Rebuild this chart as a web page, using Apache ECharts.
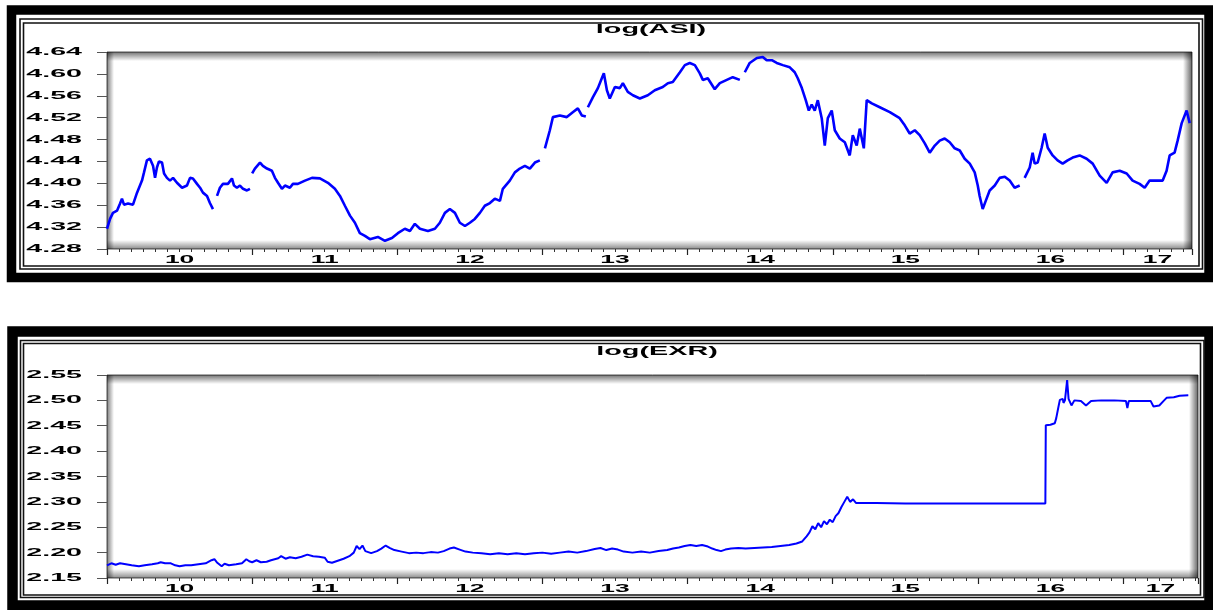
<!DOCTYPE html>
<html>
<head>
<meta charset="utf-8">
<script src="https://cdn.jsdelivr.net/npm/echarts@6/dist/echarts.min.js"></script>
<style>
  html, body { margin: 0; padding: 0; background: #fff; }
  #chart { width: 1213px; height: 610px; }
</style>
</head>
<body>
<div id="chart"></div>
<script>
// Year labels along both time axes (two-digit years)
const yearLabels = ['10', '11', '12', '13', '14', '15', '16', '17'];

// Value-axis tick labels
const asiTickLabels = ['4.28', '4.32', '4.36', '4.40', '4.44', '4.48', '4.52', '4.56', '4.60', '4.64'];
const exrTickLabels = ['2.15', '2.20', '2.25', '2.30', '2.35', '2.40', '2.45', '2.50', '2.55'];

// log(ASI): [decimal year, value]; null marks a break in the record
const asiPoints = [
  [2010.000,4.317],[2010.021,4.335],[2010.041,4.346],[2010.069,4.350],[2010.090,4.363],[2010.103,4.372],
  [2010.117,4.361],[2010.145,4.363],[2010.179,4.361],[2010.207,4.383],[2010.241,4.405],[2010.255,4.420],
  [2010.275,4.442],[2010.296,4.445],[2010.317,4.432],[2010.331,4.410],[2010.344,4.429],[2010.358,4.440],
  [2010.379,4.438],[2010.393,4.418],[2010.413,4.410],[2010.434,4.405],[2010.455,4.410],[2010.482,4.401],
  [2010.517,4.392],[2010.551,4.396],[2010.572,4.410],[2010.592,4.409],[2010.620,4.399],[2010.641,4.392],
  [2010.661,4.383],[2010.689,4.377],[2010.709,4.364],[2010.730,4.353],[2010.744,null],[2010.758,4.377],
  [2010.778,4.392],[2010.799,4.399],[2010.833,4.399],[2010.861,4.409],[2010.875,4.396],[2010.895,4.392],
  [2010.916,4.396],[2010.937,4.390],[2010.964,4.387],[2010.985,4.390],[2010.992,null],[2011.000,4.418],
  [2011.019,4.427],[2011.054,4.438],[2011.074,4.432],[2011.102,4.427],[2011.136,4.423],[2011.157,4.410],
  [2011.178,4.401],[2011.205,4.390],[2011.226,4.396],[2011.260,4.392],[2011.281,4.399],[2011.315,4.399],
  [2011.364,4.405],[2011.412,4.410],[2011.467,4.409],[2011.522,4.401],[2011.570,4.390],[2011.605,4.377],
  [2011.639,4.359],[2011.674,4.341],[2011.708,4.328],[2011.742,4.309],[2011.777,4.304],[2011.811,4.298],
  [2011.866,4.302],[2011.915,4.295],[2011.963,4.300],[2012.004,4.309],[2012.052,4.317],[2012.087,4.313],
  [2012.121,4.326],[2012.156,4.317],[2012.211,4.313],[2012.259,4.317],[2012.293,4.328],[2012.328,4.346],
  [2012.362,4.353],[2012.397,4.346],[2012.431,4.328],[2012.466,4.322],[2012.500,4.328],[2012.534,4.335],
  [2012.569,4.346],[2012.603,4.359],[2012.638,4.364],[2012.672,4.372],[2012.707,4.368],[2012.727,4.390],
  [2012.775,4.405],[2012.810,4.420],[2012.844,4.427],[2012.879,4.432],[2012.913,4.427],[2012.948,4.438],
  [2012.982,4.442],[2013.000,null],[2013.017,4.464],[2013.051,4.497],[2013.072,4.521],[2013.120,4.524],
  [2013.168,4.521],[2013.209,4.530],[2013.244,4.537],[2013.271,4.524],[2013.299,4.522],[2013.306,null],
  [2013.313,4.539],[2013.347,4.557],[2013.382,4.574],[2013.409,4.592],[2013.423,4.601],[2013.444,4.570],
  [2013.464,4.555],[2013.499,4.576],[2013.533,4.574],[2013.554,4.583],[2013.588,4.567],[2013.623,4.561],
  [2013.671,4.555],[2013.726,4.561],[2013.774,4.570],[2013.829,4.576],[2013.864,4.583],[2013.898,4.585],
  [2013.947,4.603],[2013.981,4.616],[2014.015,4.620],[2014.050,4.616],[2014.084,4.601],[2014.105,4.589],
  [2014.139,4.592],[2014.187,4.572],[2014.222,4.583],[2014.270,4.589],[2014.311,4.594],[2014.360,4.589],
  [2014.377,null],[2014.394,4.603],[2014.428,4.620],[2014.477,4.629],[2014.518,4.631],[2014.545,4.625],
  [2014.580,4.625],[2014.614,4.620],[2014.656,4.616],[2014.704,4.612],[2014.738,4.603],[2014.759,4.592],
  [2014.787,4.574],[2014.814,4.552],[2014.835,4.533],[2014.855,4.544],[2014.876,4.533],[2014.897,4.552],
  [2014.924,4.519],[2014.945,4.469],[2014.966,4.519],[2014.993,4.533],[2015.014,4.497],[2015.048,4.482],
  [2015.083,4.475],[2015.117,4.451],[2015.138,4.488],[2015.165,4.469],[2015.186,4.500],[2015.214,4.464],
  [2015.234,4.552],[2015.269,4.546],[2015.324,4.539],[2015.393,4.530],[2015.461,4.519],[2015.496,4.506],
  [2015.530,4.491],[2015.565,4.497],[2015.599,4.488],[2015.634,4.473],[2015.668,4.456],[2015.703,4.469],
  [2015.737,4.478],[2015.771,4.482],[2015.806,4.475],[2015.840,4.464],[2015.875,4.460],[2015.909,4.445],
  [2015.944,4.436],[2015.978,4.420],[2015.999,4.396],[2016.012,4.377],[2016.033,4.353],[2016.054,4.368],
  [2016.081,4.387],[2016.116,4.396],[2016.150,4.410],[2016.185,4.412],[2016.219,4.405],[2016.253,4.392],
  [2016.288,4.396],[2016.305,null],[2016.322,4.410],[2016.357,4.429],[2016.377,4.456],[2016.391,4.436],
  [2016.412,4.438],[2016.439,4.465],[2016.460,4.491],[2016.481,4.465],[2016.515,4.451],[2016.549,4.442],
  [2016.584,4.436],[2016.618,4.442],[2016.653,4.447],[2016.701,4.451],[2016.749,4.445],[2016.791,4.436],
  [2016.839,4.414],[2016.887,4.401],[2016.928,4.420],[2016.977,4.423],[2017.025,4.418],[2017.066,4.405],
  [2017.114,4.399],[2017.149,4.392],[2017.183,4.405],[2017.231,4.405],[2017.273,4.405],[2017.300,4.423],
  [2017.321,4.451],[2017.355,4.456],[2017.376,4.478],[2017.404,4.510],[2017.438,4.533],[2017.459,4.510]
];

// log(EXR): [decimal year, value]
const exrPoints = [
  [2010.000,2.175],[2010.030,2.179],[2010.060,2.176],[2010.090,2.179],[2010.130,2.177],[2010.170,2.175],
  [2010.220,2.173],[2010.260,2.175],[2010.310,2.177],[2010.350,2.179],[2010.370,2.181],[2010.400,2.179],
  [2010.440,2.179],[2010.470,2.175],[2010.500,2.173],[2010.540,2.175],[2010.580,2.175],[2010.630,2.177],
  [2010.680,2.179],[2010.720,2.185],[2010.740,2.187],[2010.760,2.180],[2010.790,2.173],[2010.810,2.178],
  [2010.840,2.175],[2010.890,2.177],[2010.930,2.179],[2010.960,2.187],[2010.980,2.183],[2011.000,2.181],
  [2011.030,2.185],[2011.060,2.181],[2011.100,2.182],[2011.130,2.185],[2011.180,2.189],[2011.200,2.193],
  [2011.230,2.188],[2011.260,2.191],[2011.300,2.189],[2011.340,2.192],[2011.380,2.196],[2011.420,2.193],
  [2011.460,2.192],[2011.500,2.190],[2011.520,2.182],[2011.550,2.180],[2011.590,2.184],[2011.630,2.188],
  [2011.670,2.193],[2011.700,2.200],[2011.720,2.213],[2011.740,2.207],[2011.760,2.214],[2011.780,2.203],
  [2011.820,2.199],[2011.860,2.203],[2011.890,2.208],[2011.920,2.214],[2011.950,2.209],[2011.980,2.205],
  [2012.030,2.202],[2012.080,2.199],[2012.130,2.200],[2012.180,2.199],[2012.230,2.201],[2012.280,2.200],
  [2012.320,2.203],[2012.360,2.208],[2012.390,2.210],[2012.430,2.206],[2012.470,2.202],[2012.520,2.200],
  [2012.580,2.199],[2012.640,2.197],[2012.700,2.199],[2012.760,2.197],[2012.820,2.199],[2012.880,2.197],
  [2012.940,2.199],[2013.000,2.200],[2013.060,2.198],[2013.120,2.200],[2013.180,2.202],[2013.240,2.200],
  [2013.300,2.203],[2013.360,2.207],[2013.400,2.209],[2013.440,2.205],[2013.480,2.208],[2013.520,2.206],
  [2013.560,2.202],[2013.620,2.200],[2013.680,2.202],[2013.740,2.200],[2013.800,2.203],[2013.860,2.205],
  [2013.900,2.208],[2013.940,2.210],[2013.980,2.213],[2014.020,2.215],[2014.060,2.213],[2014.100,2.215],
  [2014.140,2.212],[2014.170,2.208],[2014.200,2.205],[2014.230,2.203],[2014.260,2.206],[2014.300,2.208],
  [2014.350,2.209],[2014.400,2.208],[2014.460,2.209],[2014.520,2.210],[2014.580,2.211],[2014.640,2.213],
  [2014.700,2.215],[2014.750,2.218],[2014.790,2.222],[2014.820,2.232],[2014.840,2.240],[2014.860,2.252],
  [2014.880,2.246],[2014.900,2.258],[2014.920,2.250],[2014.940,2.262],[2014.960,2.256],[2014.980,2.265],
  [2015.000,2.260],[2015.020,2.272],[2015.040,2.278],[2015.060,2.290],[2015.080,2.300],[2015.100,2.310],
  [2015.120,2.300],[2015.140,2.305],[2015.160,2.298],[2015.200,2.298],[2015.300,2.298],[2015.500,2.297],
  [2015.700,2.297],[2015.900,2.297],[2016.100,2.297],[2016.300,2.297],[2016.465,2.297],[2016.468,2.451],
  [2016.500,2.452],[2016.530,2.455],[2016.540,2.465],[2016.555,2.487],[2016.565,2.501],[2016.585,2.503],
  [2016.590,2.495],[2016.600,2.500],[2016.615,2.540],[2016.625,2.503],[2016.645,2.490],[2016.665,2.500],
  [2016.710,2.499],[2016.745,2.490],[2016.780,2.499],[2016.850,2.500],[2016.940,2.500],[2017.020,2.499],
  [2017.030,2.485],[2017.040,2.499],[2017.080,2.499],[2017.190,2.499],[2017.210,2.488],[2017.250,2.490],
  [2017.280,2.499],[2017.300,2.505],[2017.350,2.506],[2017.390,2.509],[2017.450,2.510]
];

// Time is plotted in months since the start of the first year
const BASE_YEAR = 2010;
const toMonths = t => (t - BASE_YEAR) * 12;
const toSeries = pts => pts.map(([t, v]) => [toMonths(t), v]);

const FONT = '"Liberation Sans", Arial, sans-serif';

const panels = [
  {
    title: 'log(ASI)', data: toSeries(asiPoints), ticks: asiTickLabels, step: 0.04,
    grid: { left: 107, top: 52, width: 1085, height: 197 }, xMax: 89.7, lineWidth: 2.6,
    titleX: 651, titleY: 30, yearY: 260,
    band: { x: 11.5, y: 10, w: 1197.5, h: 267.5, lw: 9.5 },
    thin: [{ x: 20, y: 19, w: 1182.5, h: 250 }, { x: 23.5, y: 23, w: 1175.5, h: 243 }]
  },
  {
    title: 'log(EXR)', data: toSeries(exrPoints), ticks: exrTickLabels, step: 0.05,
    grid: { left: 107, top: 375, width: 1091, height: 203 }, xMax: 90.2, lineWidth: 2.0,
    titleX: 657, titleY: 352, yearY: 589,
    band: { x: 12.5, y: 331.5, w: 1197, h: 274, lw: 10.5 },
    thin: [{ x: 20.5, y: 340.5, w: 1183.5, h: 257 }, { x: 23.5, y: 343.5, w: 1177, h: 251.5 }]
  }
];

const chart = echarts.init(document.getElementById('chart'), null, { renderer: 'canvas' });

const grids = [], xAxes = [], yAxes = [], series = [];
panels.forEach((p, i) => {
  grids.push(Object.assign({ show: true, backgroundColor: '#fff', borderColor: '#555', borderWidth: 1 }, p.grid));
  // monthly minor ticks
  xAxes.push({
    gridIndex: i, type: 'value', position: 'bottom', min: 0, max: p.xMax, interval: 1,
    axisLine: { show: false }, splitLine: { show: false }, axisLabel: { show: false },
    axisTick: { show: true, length: 3, lineStyle: { color: '#333', width: 1 } }
  });
  // yearly major ticks
  xAxes.push({
    gridIndex: i, type: 'value', position: 'bottom', min: 0, max: p.xMax, interval: 12,
    axisLine: { show: false }, splitLine: { show: false }, axisLabel: { show: false },
    axisTick: { show: true, length: 6, lineStyle: { color: '#222', width: 1.2 } }
  });
  yAxes.push({
    gridIndex: i, type: 'value',
    min: parseFloat(p.ticks[0]), max: parseFloat(p.ticks[p.ticks.length - 1]), interval: p.step,
    axisLine: { show: false }, splitLine: { show: false }, axisLabel: { show: false },
    axisTick: { show: true, length: 10, lineStyle: { color: '#555', width: 1 } }
  });
  series.push({
    type: 'line', xAxisIndex: 2 * i, yAxisIndex: i, data: p.data,
    symbol: 'none', showSymbol: false, connectNulls: false, clip: true, z: 5,
    lineStyle: { color: '#0000ff', width: p.lineWidth }
  });
});

chart.setOption({
  animation: false,
  backgroundColor: '#fff',
  grid: grids, xAxis: xAxes, yAxis: yAxes, series: series
});

// Frames, plot-area shading and stretched text labels
const graphics = [];
const textEl = (text, x, y, size, sx, align) => ({
  type: 'text', x: x, y: y, scaleX: sx, z: 20, silent: true,
  style: {
    text: text, x: 0, y: 0, fill: '#000',
    fontSize: size, fontWeight: 'bold', fontFamily: FONT,
    align: align, verticalAlign: 'middle', textAlign: align, textVerticalAlign: 'middle'
  }
});
const shade = (x, y, w, h, vertical, from, to) => ({
  type: 'rect', z: 3, silent: true,
  shape: { x: x, y: y, width: w, height: h },
  style: {
    fill: {
      type: 'linear', x: 0, y: 0, x2: vertical ? 0 : 1, y2: vertical ? 1 : 0,
      colorStops: [{ offset: 0, color: from }, { offset: 1, color: to }]
    }
  }
});

panels.forEach((p, i) => {
  const b = p.band;
  graphics.push({
    type: 'rect', z: 0, silent: true,
    shape: { x: b.x, y: b.y, width: b.w, height: b.h },
    style: { fill: null, stroke: '#000', lineWidth: b.lw }
  });
  p.thin.forEach(t => graphics.push({
    type: 'rect', z: 0, silent: true,
    shape: { x: t.x, y: t.y, width: t.w, height: t.h },
    style: { fill: null, stroke: '#111', lineWidth: 1.6 }
  }));

  const g = p.grid;
  graphics.push(shade(g.left, g.top, g.width, 9, true, 'rgba(0,0,0,0.55)', 'rgba(0,0,0,0)'));
  graphics.push(shade(g.left, g.top + g.height - 9, g.width, 9, true, 'rgba(0,0,0,0)', 'rgba(0,0,0,0.45)'));
  graphics.push(shade(g.left, g.top, 7, g.height, false, 'rgba(0,0,0,0.5)', 'rgba(0,0,0,0)'));
  graphics.push(shade(g.left + g.width - 9, g.top, 9, g.height, false, 'rgba(0,0,0,0)', 'rgba(0,0,0,0.6)'));

  graphics.push(textEl(p.title, p.titleX, p.titleY, 12, 2.4, 'center'));

  p.ticks.forEach(lbl => {
    const y = chart.convertToPixel({ yAxisIndex: i }, parseFloat(lbl));
    graphics.push(textEl(lbl, 82, y, 11, 2.6, 'right'));
  });

  yearLabels.forEach((lbl, k) => {
    const start = 12 * k;
    const end = Math.min(12 * (k + 1), p.xMax);
    const x = chart.convertToPixel({ xAxisIndex: 2 * i }, (start + end) / 2);
    graphics.push(textEl(lbl, x, p.yearY, 11, 2.4, 'center'));
  });
});

chart.setOption({ graphic: graphics });
</script>
</body>
</html>
